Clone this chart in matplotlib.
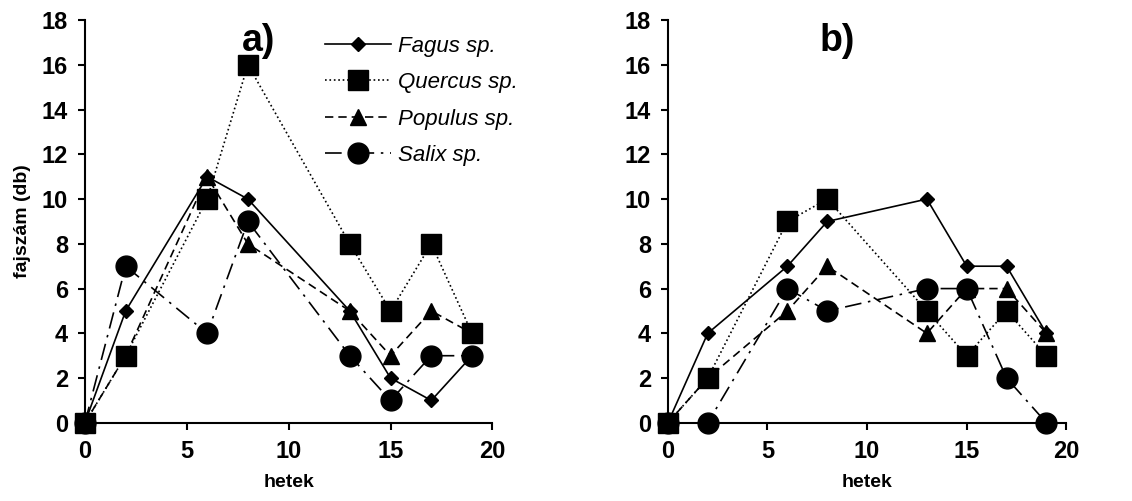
import matplotlib.pyplot as plt

plt.rcParams['font.family'] = ['Liberation Sans', 'DejaVu Sans']

hetek = [0, 2, 6, 8, 13, 15, 17, 19]

# a) panel
fagus_a = [0, 5, 11, 10, 5, 2, 1, 3]
quercus_a = [0, 3, 10, 16, 8, 5, 8, 4]
populus_a = [0, 3, 11, 8, 5, 3, 5, 4]
salix_a = [0, 7, 4, 9, 3, 1, 3, 3]

# b) panel
fagus_b = [0, 4, 7, 9, 10, 7, 7, 4]
quercus_b = [0, 2, 9, 10, 5, 3, 5, 3]
populus_b = [0, 2, 5, 7, 4, 6, 6, 4]
salix_b = [0, 0, 6, 5, 6, 6, 2, 0]

names = ["Fagus sp.", "Quercus sp.", "Populus sp.", "Salix sp."]
styles = [
    dict(linestyle='-', marker='D', markersize=7),
    dict(linestyle=':', marker='s', markersize=14),
    dict(linestyle=(0, (5, 3)), marker='^', markersize=11),
    dict(linestyle=(0, (10, 4, 1.5, 4)), marker='o', markersize=15),
]


def draw_panel(ax, series, label):
    for vals, name, st in zip(series, names, styles):
        ax.plot(hetek, vals, color='black', linewidth=1.2, label=name,
                clip_on=False, **st)
    ax.set_xlim(0, 20)
    ax.set_ylim(0, 18)
    ax.set_xticks([0, 5, 10, 15, 20])
    ax.set_yticks(range(0, 19, 2))
    ax.spines['top'].set_visible(False)
    ax.spines['right'].set_visible(False)
    ax.spines['left'].set_linewidth(1.5)
    ax.spines['bottom'].set_linewidth(1.5)
    ax.tick_params(direction='out', length=5, width=1.5, labelsize=17, pad=7)
    for t in ax.get_xticklabels() + ax.get_yticklabels():
        t.set_fontweight('bold')
    ax.set_xlabel('hetek', fontsize=14, fontweight='bold', labelpad=8)
    ax.text(8.5, 16.6, label, fontsize=27, fontweight='bold', ha='center')


fig = plt.figure(figsize=(11.32, 5.01), dpi=100)
ax1 = fig.add_axes([0.075, 0.156, 0.36, 0.804])
ax2 = fig.add_axes([0.590, 0.156, 0.352, 0.804])

draw_panel(ax1, [fagus_a, quercus_a, populus_a, salix_a], 'a)')
draw_panel(ax2, [fagus_b, quercus_b, populus_b, salix_b], 'b)')
ax1.set_ylabel('fajszám (db)', fontsize=14, fontweight='bold', labelpad=8)

leg = ax1.legend(loc='upper left', bbox_to_anchor=(0.55, 1.0), frameon=False,
                 prop={'style': 'italic', 'size': 16}, handlelength=3.0,
                 labelspacing=0.7, handletextpad=0.3, borderaxespad=0.3)

fig.savefig('out.png', dpi=100)
